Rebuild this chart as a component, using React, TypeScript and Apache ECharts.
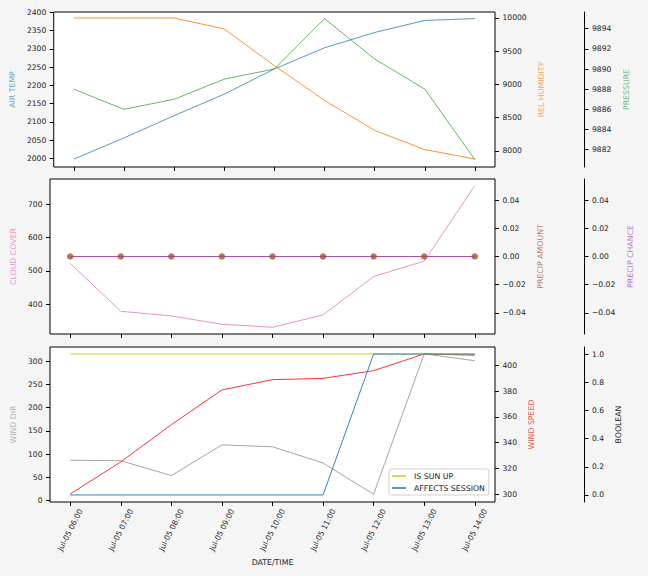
import React, { useEffect, useRef } from "react";
import * as echarts from "echarts";

const TIMES = [
  "Jul-05 06:00", "Jul-05 07:00", "Jul-05 08:00", "Jul-05 09:00", "Jul-05 10:00",
  "Jul-05 11:00", "Jul-05 12:00", "Jul-05 13:00", "Jul-05 14:00",
];
const AIR_TEMP = [1998, 2056, 2117, 2176, 2245, 2303, 2345, 2378, 2383];
const REL_HUMIDITY = [10000, 10000, 10000, 9835, 9283, 8761, 8310, 8020, 7880];
const PRESSURE = [9888, 9886, 9887, 9889, 9890, 9895, 9891, 9888, 9881];
const CLOUD_COVER = [522, 379, 365, 340, 331, 368, 483, 529, 755];
const PRECIP_AMOUNT = [0, 0, 0, 0, 0, 0, 0, 0, 0];
const PRECIP_CHANCE = [0, 0, 0, 0, 0, 0, 0, 0, 0];
const WIND_DIR = [87, 86, 54, 120, 116, 81, 14, 316, 301];
const WIND_SPEED = [300, 325, 354, 381, 389, 390, 396, 409, 408];
const IS_SUN_UP = [1, 1, 1, 1, 1, 1, 1, 1, 1];
const AFFECTS_SESSION = [0, 0, 0, 0, 0, 0, 1, 1, 1];

const AIR_TEMP_TICKS = [2000, 2050, 2100, 2150, 2200, 2250, 2300, 2350, 2400];
const REL_HUMIDITY_TICKS = [8000, 8500, 9000, 9500, 10000];
const PRESSURE_TICKS = [9882, 9884, 9886, 9888, 9890, 9892, 9894];
const CLOUD_TICKS = [400, 500, 600, 700];
const PRECIP_TICKS = [-0.04, -0.02, 0, 0.02, 0.04];
const WIND_DIR_TICKS = [0, 50, 100, 150, 200, 250, 300];
const WIND_SPEED_TICKS = [300, 320, 340, 360, 380, 400];
const BOOL_TICKS = [0, 0.2, 0.4, 0.6, 0.8, 1.0];

const FONT = "DejaVu Sans";
const TICK_FS = 7.6;
const NAME_FS = 7.8;

const minus = (s: string) => s.replace("-", "\u2212");

function yAxis(
  gridIndex: number,
  position: "left" | "right",
  offset: number,
  name: string,
  nameColor: string,
  nameGap: number,
  min: number,
  max: number,
  ticks: number[],
  fmt: (v: number) => string,
  showLine: boolean
) {
  return {
    type: "value",
    gridIndex,
    position,
    offset,
    min,
    max,
    name,
    nameLocation: "middle",
    nameRotate: 90,
    nameGap,
    nameTextStyle: { color: nameColor, fontSize: NAME_FS, fontFamily: FONT },
    axisLine: { show: showLine, onZero: false, lineStyle: { color: "#000", width: 1 } },
    axisTick: {
      show: true,
      length: 4,
      customValues: ticks,
      lineStyle: { color: "#000", width: 1 },
    },
    axisLabel: {
      show: true,
      customValues: ticks,
      margin: 7.5,
      fontSize: TICK_FS,
      fontFamily: FONT,
      color: "#222",
      formatter: (v: number) => fmt(v),
    },
    splitLine: { show: false },
  };
}

function xAxis(gridIndex: number, showLabels: boolean) {
  return {
    type: "value",
    gridIndex,
    position: "bottom",
    min: -0.4,
    max: 8.4,
    axisLine: { show: false, onZero: false },
    axisTick: {
      show: true,
      length: 4,
      customValues: TIMES.map((_, i) => i),
      lineStyle: { color: "#000", width: 1 },
    },
    axisLabel: {
      show: showLabels,
      customValues: TIMES.map((_, i) => i),
      rotate: 63,
      align: "center",
      verticalAlign: "middle",
      margin: 28,
      fontSize: TICK_FS,
      fontFamily: FONT,
      color: "#222",
      formatter: (v: number) => TIMES[Math.round(v)] ?? "",
    },
    splitLine: { show: false },
    name: showLabels ? "DATE/TIME" : "",
    nameLocation: "middle",
    nameGap: 56,
    nameTextStyle: { color: "#222", fontSize: NAME_FS, fontFamily: FONT },
  };
}

const pts = (arr: number[]) => arr.map((v, i) => [i, v]);

function line(name: string, xi: number, yi: number, data: number[], color: string, opacity = 0.75, z = 2) {
  return {
    type: "line",
    name,
    xAxisIndex: xi,
    yAxisIndex: yi,
    data: pts(data),
    showSymbol: false,
    symbol: "none",
    lineStyle: { color, width: 1, opacity },
    itemStyle: { color },
    z,
  };
}

export default function App() {
  const ref = useRef<HTMLDivElement>(null);
  useEffect(() => {
    document.body.style.margin = "0";
    const chart = echarts.init(ref.current!, null, { renderer: "svg" });
    const gridBase = {
      left: 50,
      width: 445,
      height: 155,
      show: true,
      backgroundColor: "#fff",
      borderColor: "#000",
      borderWidth: 1,
    };
    const f0 = (v: number) => String(Math.round(v));
    const f2 = (v: number) => minus(v.toFixed(2));
    const f1 = (v: number) => v.toFixed(1);
    chart.setOption({
      animation: false,
      backgroundColor: "#f5f5f5",
      grid: [
        { ...gridBase, top: 12 },
        { ...gridBase, top: 179 },
        { ...gridBase, top: 347 },
      ],
      xAxis: [xAxis(0, false), xAxis(1, false), xAxis(2, true)],
      yAxis: [
        yAxis(0, "left", 0, "AIR TEMP", "rgba(31,119,180,0.7)", 34, 1976.4, 2401.1, AIR_TEMP_TICKS, f0, false),
        yAxis(0, "right", 0, "REL HUMIDITY", "rgba(255,127,14,0.75)", 35, 7759, 10090, REL_HUMIDITY_TICKS, f0, false),
        yAxis(0, "right", 89.5, "PRESSURE", "rgba(44,160,44,0.7)", 30, 9880.28, 9895.66, PRESSURE_TICKS, f0, true),
        yAxis(1, "left", 0, "CLOUD COVER", "rgba(227,119,194,0.8)", 29, 310.9, 775, CLOUD_TICKS, f0, false),
        yAxis(1, "right", 0, "PRECIP AMOUNT", "rgba(160,82,45,0.75)", 34, -0.055, 0.055, PRECIP_TICKS, f2, false),
        yAxis(1, "right", 89.5, "PRECIP CHANCE", "rgba(148,60,175,0.7)", 34, -0.055, 0.055, PRECIP_TICKS, f2, true),
        yAxis(2, "left", 0, "WIND DIR", "rgba(127,127,127,0.6)", 29, -2.8, 330.6, WIND_DIR_TICKS, f0, false),
        yAxis(2, "right", 0, "WIND SPEED", "rgba(255,0,0,0.75)", 25, 293.8, 414.4, WIND_SPEED_TICKS, f0, false),
        yAxis(2, "right", 89.5, "BOOLEAN", "#222", 22, -0.05, 1.05, BOOL_TICKS, f1, true),
      ],
      legend: {
        data: [
          { name: "IS SUN UP", icon: "rect" },
          { name: "AFFECTS SESSION", icon: "rect" },
        ],
        orient: "vertical",
        left: 389,
        top: 469,
        itemWidth: 14,
        itemHeight: 1.5,
        itemGap: 4,
        padding: [3, 4, 3, 3],
        backgroundColor: "rgba(255,255,255,0.85)",
        borderColor: "#d0d0d0",
        borderWidth: 1,
        borderRadius: 2,
        textStyle: { fontSize: NAME_FS, fontFamily: FONT, color: "#222", padding: [0, 0, 0, 3] },
      },
      series: [
        line("AIR TEMP", 0, 0, AIR_TEMP, "#1f77b4"),
        line("REL HUMIDITY", 0, 1, REL_HUMIDITY, "#ff7f0e", 0.85),
        line("PRESSURE", 0, 2, PRESSURE, "#2ca02c"),
        line("CLOUD COVER", 1, 3, CLOUD_COVER, "#e377c2", 0.8),
        line("PRECIP CHANCE", 1, 5, PRECIP_CHANCE, "#9440b0", 0.9, 3),
        {
          type: "scatter",
          name: "PRECIP AMOUNT",
          xAxisIndex: 1,
          yAxisIndex: 4,
          data: pts(PRECIP_AMOUNT),
          symbol: "circle",
          symbolSize: 6.5,
          itemStyle: { color: "#a0522d" },
          z: 4,
        },
        line("WIND DIR", 2, 6, WIND_DIR, "#7f7f7f", 0.7),
        line("WIND SPEED", 2, 7, WIND_SPEED, "#ff0000", 0.8),
        line("IS SUN UP", 2, 8, IS_SUN_UP, "#c8c814", 0.9),
        line("AFFECTS SESSION", 2, 8, AFFECTS_SESSION, "#1f77b4", 0.9),
      ],
    });
    return () => chart.dispose();
  }, []);
  return <div ref={ref} style={{ width: 648, height: 576 }} />;
}
